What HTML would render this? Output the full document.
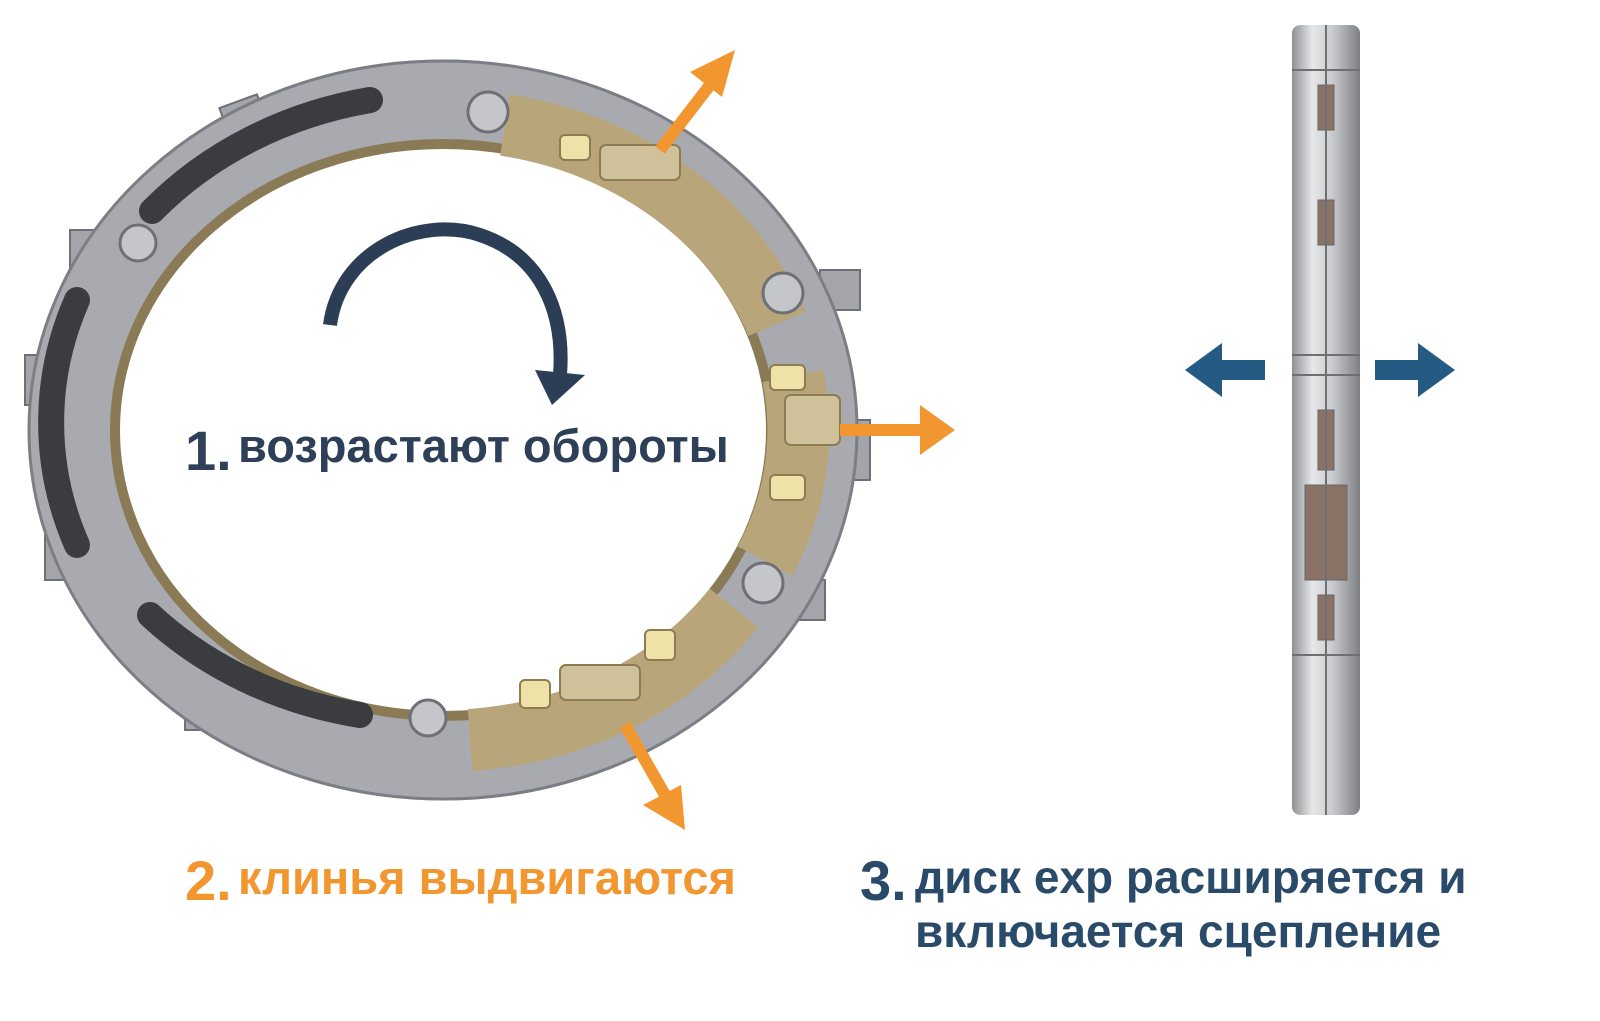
<!DOCTYPE html>
<html><head><meta charset="utf-8"><style>
html,body{margin:0;padding:0;background:#fff;width:1600px;height:1021px;overflow:hidden}
svg{position:absolute;left:0;top:0}
.t{position:absolute;font-family:"Liberation Sans","DejaVu Sans",sans-serif;font-weight:bold;white-space:nowrap}
</style></head><body>
<svg width="1600" height="1021" viewBox="0 0 1600 1021">
<defs>
<linearGradient id="disc" x1="0" x2="1" y1="0" y2="0">
<stop offset="0" stop-color="#8e9094"/><stop offset="0.3" stop-color="#e6e7e9"/><stop offset="0.6" stop-color="#c9cacd"/><stop offset="1" stop-color="#7d7f83"/></linearGradient>
</defs>
<g fill="#a3a5aa" stroke="#6e7075" stroke-width="2">
<rect x="435" y="62" width="32" height="40"/>
<rect x="225" y="100" width="40" height="40" transform="rotate(-20 245 120)"/>
<rect x="70" y="230" width="40" height="40"/>
<rect x="25" y="355" width="40" height="50"/>
<rect x="45" y="535" width="40" height="45"/>
<rect x="185" y="690" width="45" height="40"/>
<rect x="530" y="740" width="45" height="40"/>
<rect x="820" y="270" width="40" height="40"/>
<rect x="845" y="420" width="25" height="60"/>
<rect x="780" y="580" width="45" height="40"/>
</g>
<ellipse cx="443" cy="430" rx="372" ry="328" fill="none" stroke="#a8aaaf" stroke-width="85"/>
<ellipse cx="443" cy="430" rx="414" ry="369" fill="none" stroke="#7c7e83" stroke-width="3"/>
<ellipse cx="443" cy="430" rx="328" ry="286" fill="none" stroke="#8a7a55" stroke-width="10"/>
<g fill="none" stroke="#3b3c40" stroke-width="26" stroke-linecap="round">
<path d="M152 211 A385 340 0 0 1 370 100"/>
<path d="M77 300 A385 340 0 0 0 77 545"/>
<path d="M150 615 A385 340 0 0 0 360 715"/>
</g>
<g fill="none" stroke="#b8a57a" stroke-width="62">
<path d="M505 125 A355 310 0 0 1 777 324"/>
<path d="M793 376 A355 310 0 0 1 765 561"/>
<path d="M734 608 A355 310 0 0 1 470 740"/>
</g>
<g fill="#cfc199" stroke="#8d7c52" stroke-width="2">
<rect x="600" y="145" width="80" height="35" rx="6"/>
<rect x="560" y="135" width="30" height="25" rx="5" fill="#efe2a8"/>
<rect x="785" y="395" width="55" height="50" rx="6"/>
<rect x="770" y="365" width="35" height="25" rx="5" fill="#efe2a8"/>
<rect x="770" y="475" width="35" height="25" rx="5" fill="#efe2a8"/>
<rect x="560" y="665" width="80" height="35" rx="6"/>
<rect x="520" y="680" width="30" height="28" rx="5" fill="#efe2a8"/>
<rect x="645" y="630" width="30" height="30" rx="5" fill="#efe2a8"/>
</g>
<g fill="#c4c6ca" stroke="#6e7075" stroke-width="3">
<circle cx="488" cy="112" r="20"/><circle cx="783" cy="293" r="20"/><circle cx="763" cy="583" r="20"/><circle cx="428" cy="718" r="18"/><circle cx="138" cy="243" r="18"/>
</g>
<g stroke="#f29630" stroke-width="12" fill="#f29630">
<line x1="660" y1="150" x2="710" y2="85"/>
<polygon points="735,50 690,72 722,97" stroke="none"/>
<line x1="840" y1="430" x2="920" y2="430"/>
<polygon points="955,430 920,405 920,455" stroke="none"/>
<line x1="625" y1="725" x2="665" y2="795"/>
<polygon points="685,830 643,805 681,785" stroke="none"/>
</g>
<path d="M330 325 C340 250 420 215 480 235 C540 255 565 310 560 375" fill="none" stroke="#2c3e55" stroke-width="14"/>
<polygon points="535,370 585,375 552,405" fill="#2c3e55"/>
<rect x="1292" y="25" width="68" height="790" rx="8" fill="url(#disc)"/>
<g fill="#8a7266" stroke="#666" stroke-width="1">
<rect x="1318" y="85" width="16" height="45"/>
<rect x="1318" y="200" width="16" height="45"/>
<rect x="1318" y="410" width="16" height="60"/>
<rect x="1305" y="485" width="42" height="95"/>
<rect x="1318" y="595" width="16" height="45"/>
</g>
<g fill="none" stroke="#6d6f73" stroke-width="2">
<line x1="1292" y1="355" x2="1360" y2="355"/><line x1="1292" y1="375" x2="1360" y2="375"/>
<line x1="1292" y1="655" x2="1360" y2="655"/><line x1="1292" y1="70" x2="1360" y2="70"/>
<line x1="1326" y1="25" x2="1326" y2="815"/>
</g>
<g fill="#255a82">
<rect x="1215" y="360" width="50" height="20"/><polygon points="1185,370 1222,343 1222,397"/>
<rect x="1375" y="360" width="50" height="20"/><polygon points="1455,370 1418,343 1418,397"/>
</g>
</svg>
<div class="t" style="left:185px;top:418px;color:#2e3f58;font-size:56px">1.</div>
<div class="t" style="left:238px;top:418px;color:#2e3f58;font-size:47px">возрастают обороты</div>
<div class="t" style="left:185px;top:848px;color:#f29630;font-size:56px">2.</div>
<div class="t" style="left:238px;top:850px;color:#f29630;font-size:47px">клинья выдвигаются</div>
<div class="t" style="left:860px;top:848px;color:#2a4a6a;font-size:56px">3.</div>
<div class="t" style="left:915px;top:850px;color:#2a4a6a;font-size:46px">диск exp расширяется и</div>
<div class="t" style="left:915px;top:904px;color:#2a4a6a;font-size:46px">включается сцепление</div>
</body></html>
